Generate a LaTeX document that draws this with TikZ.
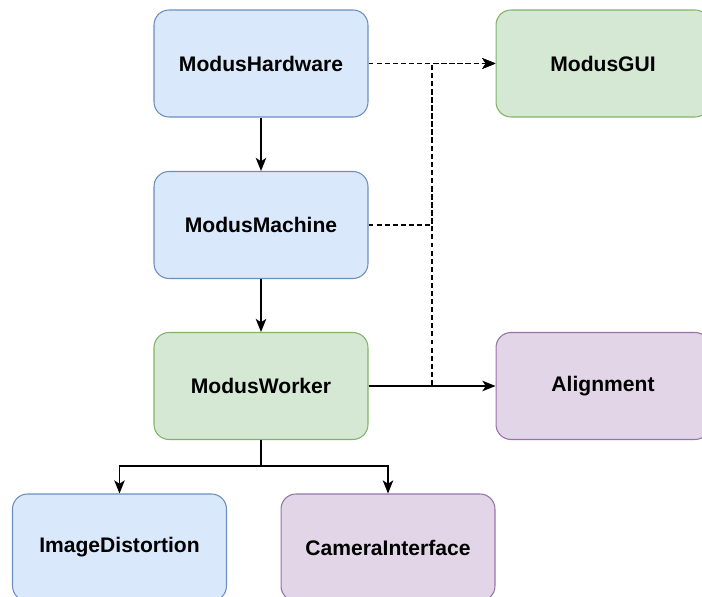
\documentclass[tikz,border=0pt]{standalone}
\usepackage{fontspec}
\setmainfont{Liberation Sans}
\usepackage{tikz}
\usetikzlibrary{arrows.meta, positioning, calc}
\definecolor{blfill}{HTML}{DAE8FC}
\definecolor{bldraw}{HTML}{6C8EBF}
\definecolor{grfill}{HTML}{D5E8D4}
\definecolor{grdraw}{HTML}{82B366}
\definecolor{pufill}{HTML}{E1D5E7}
\definecolor{pudraw}{HTML}{9673A6}
\tikzset{
  modblock/.style={rectangle, text width=4.28cm, align=center, minimum height=2.14cm,
    inner sep=0pt, font=\bfseries\fontsize{12}{14}\selectfont, rounded corners=0.3cm, line width=0.6pt},
  blueblock/.style={modblock, draw=bldraw, fill=blfill},
  greenblock/.style={modblock, draw=grdraw, fill=grfill},
  purpblock/.style={modblock, draw=pudraw, fill=pufill},
  arrow/.style={-{Stealth[length=7.5pt, width=6pt, inset=2pt]}, line width=0.75pt, color=black},
  dasharrow/.style={arrow, dash pattern=on 2.8pt off 1.8pt}
}
\begin{document}
\begin{tikzpicture}[x=0.02cm, y=-0.02cm]
  \useasboundingbox (0,0) rectangle (702,597);

  % Place blocks
  \node[blueblock] (hw) at (261,63.5) {ModusHardware};
  \node[greenblock] (gui) at (603,63.5) {ModusGUI};
  \node[blueblock] (machine) at (261,225) {ModusMachine};
  \node[greenblock] (worker) at (261,386) {ModusWorker};
  \node[purpblock] (align) at (603,386) {Alignment};
  \node[blueblock] (imgdist) at (119.5,547.5) {ImageDistortion};
  \node[purpblock] (camif) at (388,547.5) {CameraInterface};

  % Junction points
  \coordinate (bus) at (432,225);
  \coordinate (split) at (261,466);

  % Solid chain
  \draw[arrow] (hw.south) -- (machine.north);
  \draw[arrow] (machine.south) -- (worker.north);
  \draw[arrow] (worker.south) -- (split) -| (imgdist.north);
  \draw[arrow] (split) -| (camif.north);

  % Dashed links to GUI
  \draw[dasharrow] (hw.east) -- (gui.west);
  \draw[dasharrow] (machine.east) -- (bus) |- (gui.west);
  \draw[dasharrow] (worker.east) -| (bus) |- (gui.west);
  \draw[arrow] (worker.east) -- (align.west);
\end{tikzpicture}
\end{document}
